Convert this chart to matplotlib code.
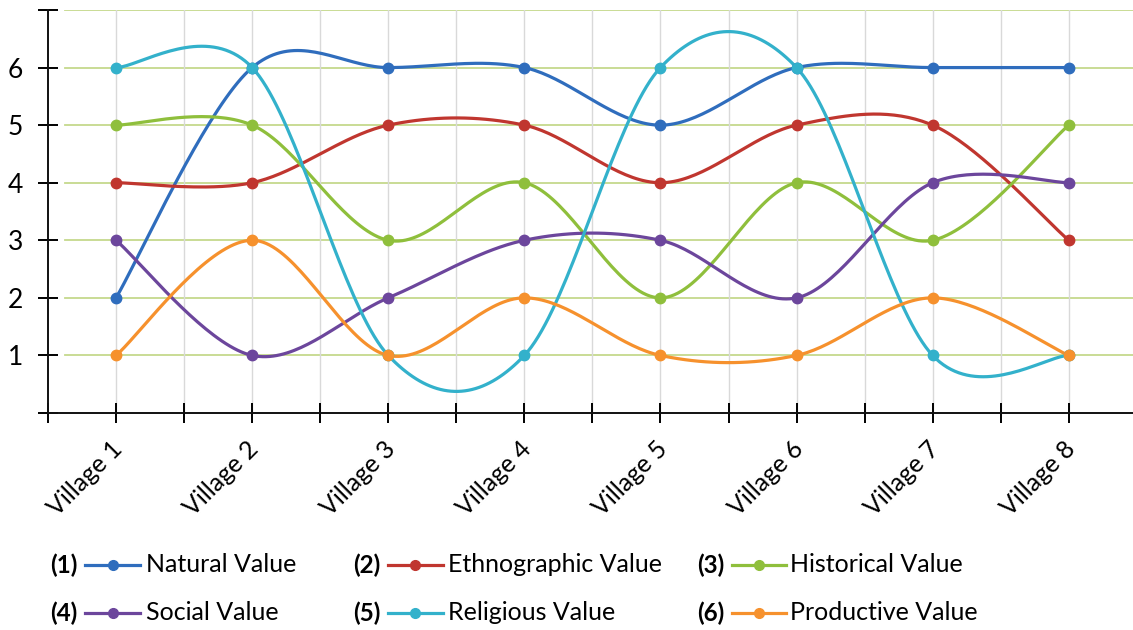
import numpy as np
import matplotlib
matplotlib.use("Agg")
import matplotlib.pyplot as plt
from matplotlib.lines import Line2D

plt.rcParams['font.family'] = ['Lato', 'DejaVu Sans']

villages = ["Village 1", "Village 2", "Village 3", "Village 4",
            "Village 5", "Village 6", "Village 7", "Village 8"]

natural = [2, 6, 6, 6, 5, 6, 6, 6]
ethnographic = [4, 4, 5, 5, 4, 5, 5, 3]
historical = [5, 5, 3, 4, 2, 4, 3, 5]
social = [3, 1, 2, 3, 3, 2, 4, 4]
religious = [6, 6, 1, 1, 6, 6, 1, 1]
productive = [1, 3, 1, 2, 1, 1, 2, 1]

series_names = ["Natural Value", "Ethnographic Value", "Historical Value",
                "Social Value", "Religious Value", "Productive Value"]
colors = ["#2f6dbd", "#c0362f", "#8fbf3c", "#6c469c", "#33b1cb", "#f6912d"]


def smooth(xs, ys, n=40):
    # catmull-rom through the points, end points doubled
    p = np.column_stack([xs, ys]).astype(float)
    p = np.vstack([p[0], p, p[-1]])
    out = []
    t = np.linspace(0, 1, n)[:, None]
    for i in range(1, len(p) - 2):
        p0, p1, p2, p3 = p[i - 1], p[i], p[i + 1], p[i + 2]
        m1 = (p2 - p0) / 2
        m2 = (p3 - p1) / 2
        h00 = 2 * t**3 - 3 * t**2 + 1
        h10 = t**3 - 2 * t**2 + t
        h01 = -2 * t**3 + 3 * t**2
        h11 = t**3 - t**2
        seg = h00 * p1 + h10 * m1 + h01 * p2 + h11 * m2
        out.append(seg if i == 1 else seg[1:])
    out = np.vstack(out)
    return out[:, 0], out[:, 1]


fig = plt.figure(figsize=(11.33, 6.3), dpi=100)
ax = fig.add_axes([48 / 1133, 217 / 630, 1 - 48 / 1133, 403 / 630])

x = np.arange(1, len(villages) + 1)
ax.set_xlim(0.5, 0.5 + 1085 / 136.1)
ax.set_ylim(0, 7)

# grid
for yv in range(1, 8):
    ax.axhline(yv, xmin=0.016, color="#c5d98c", lw=1.3, zorder=0)
for xv in np.arange(1, 8.01, 0.5):
    ax.axvline(xv, color="#d9d9d9", lw=1.0, zorder=0)

all_series = [natural, ethnographic, historical, social, religious, productive]
for ys, c in zip(all_series, colors):
    sx, sy = smooth(x, ys)
    ax.plot(sx, sy, color=c, lw=2.3, zorder=3, solid_capstyle="round")
    ax.plot(x, ys, "o", color=c, ms=7.5, zorder=4)

for s in ["top", "right"]:
    ax.spines[s].set_visible(False)
for s in ["left", "bottom"]:
    ax.spines[s].set_linewidth(1.4)
    ax.spines[s].set_color("#111111")

ax.set_yticks(range(0, 8))
ax.set_yticklabels(["", "1", "2", "3", "4", "5", "6", ""])
ax.tick_params(axis="y", direction="inout", length=14, width=1.4,
               labelsize=19, pad=11)
ax.set_xticks(np.arange(0.5, 8.01, 0.5), minor=False)
ax.set_xticklabels([""] * len(np.arange(0.5, 8.01, 0.5)))
ax.tick_params(axis="x", direction="inout", length=14, width=1.4)

for xi, lab in zip(x, villages):
    ax.annotate(lab, (xi, 0), xytext=(2, -23), textcoords="offset points",
                rotation=45, rotation_mode="anchor", ha="right", va="center",
                fontsize=18, annotation_clip=False)

# legend rows
cols_px = [(50, 85, 140, 146), (353, 388, 443, 448), (697, 732, 786, 790)]
rows_px = [565, 613]
for k, (name, c) in enumerate(zip(series_names, colors)):
    r, col = divmod(k, 3)
    nx, hx0, hx1, lx = cols_px[col]
    yy = 1 - rows_px[r] / 630
    fig.text(nx / 1133, yy, "(%d)" % (k + 1), fontsize=17.5, fontweight="bold",
             va="center", ha="left")
    fig.add_artist(Line2D([hx0 / 1133, hx1 / 1133], [yy, yy], color=c, lw=2.3,
                          transform=fig.transFigure))
    fig.add_artist(Line2D([(hx0 + hx1) / 2 / 1133], [yy], marker="o", ms=7,
                          color=c, transform=fig.transFigure))
    fig.text(lx / 1133, yy, name, fontsize=18, va="center", ha="left")

fig.savefig("out.png", dpi=100)
